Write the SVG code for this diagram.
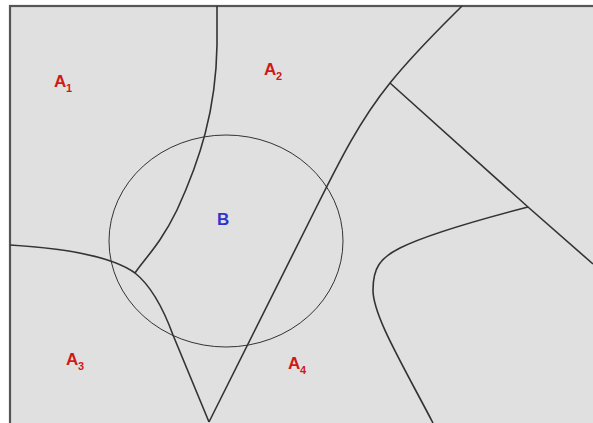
<svg xmlns="http://www.w3.org/2000/svg" width="593" height="423" viewBox="0 0 593 423">
<style>
.bd{fill:none;stroke:#333;stroke-width:1.6;stroke-linejoin:round}
.lab{font-family:"Liberation Sans",Arial,sans-serif;font-weight:bold;fill:#d01818}
.big{font-size:17px}
.sub{font-size:11px}
</style>
<rect x="0" y="0" width="593" height="423" fill="#ffffff"/>
<rect x="10" y="6" width="590" height="430" fill="#e0e0e0" stroke="#555" stroke-width="2.2"/>
<g id="connectors">
<path class="bd" d="M217,6 L217,45 C216,110 200,160 177,210 C160,245 145,258 135,273"/>
<path class="bd" d="M10,245 C60,248 110,255 135,273 C150,285 162,305 173,335 L209,422"/>
<path class="bd" d="M209,422 L315,210 C340,160 360,120 390,83 C415,52 440,28 462,6"/>
<path class="bd" d="M390,83 L528,207 L593,264"/>
<path class="bd" d="M528,207 C470,222 420,238 400,248 C380,258 373,268 373,290 C373,315 400,360 433,423"/>
</g>
<g id="circleB">
<ellipse cx="226" cy="241" rx="117" ry="106" fill="none" stroke="#333" stroke-width="1"/>
<text x="217" y="225" class="lab big" style="fill:#3333cc">B</text>
</g>
<g id="A1"><text x="54" y="87" class="lab big">A</text><text x="66" y="92" class="lab sub">1</text></g>
<g id="A2"><text x="264" y="75" class="lab big">A</text><text x="276" y="80" class="lab sub">2</text></g>
<g id="A3"><text x="66" y="365" class="lab big">A</text><text x="78" y="370" class="lab sub">3</text></g>
<g id="A4"><text x="288" y="369" class="lab big">A</text><text x="300" y="374" class="lab sub">4</text></g>
</svg>
